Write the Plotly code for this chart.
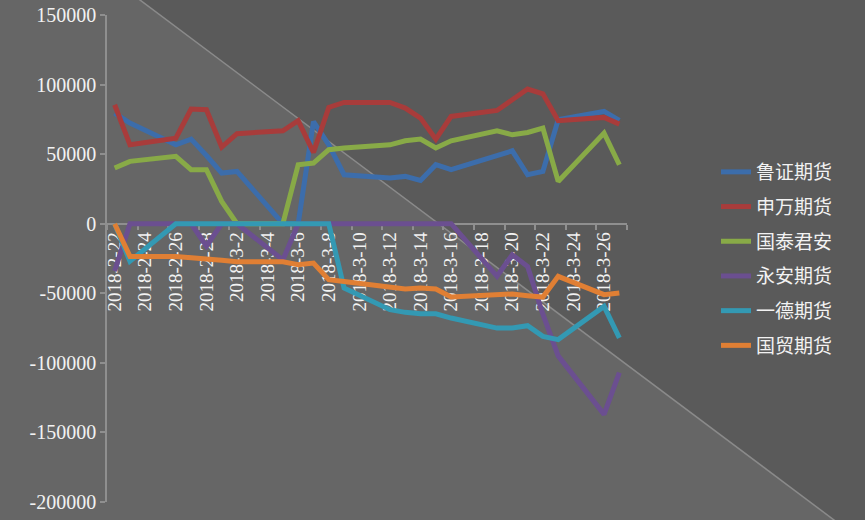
import plotly.graph_objects as go
import pandas as pd

dates = ["2018-02-22", "2018-02-23", "2018-02-26", "2018-02-27", "2018-02-28", "2018-03-01",
         "2018-03-02", "2018-03-05", "2018-03-06", "2018-03-07", "2018-03-08", "2018-03-09",
         "2018-03-12", "2018-03-13", "2018-03-14", "2018-03-15", "2018-03-16", "2018-03-19",
         "2018-03-20", "2018-03-21", "2018-03-22", "2018-03-23", "2018-03-26", "2018-03-27"]

series_names = ["鲁证期货", "申万期货", "国泰君安", "永安期货", "一德期货", "国贸期货"]

luzheng = [79500, 72300, 56700, 60800, 49000, 36400, 37600, 0, 0, 73300, 56700, 35200,
           32800, 34000, 31100, 42400, 38800, 49600, 52400, 35200, 37600, 74700, 80700, 74200]
shenwan = [85500, 56700, 61500, 82400, 81900, 55100, 64700, 66800, 74000, 51200, 83600, 87200,
           87200, 83100, 75900, 60800, 77100, 81400, 89100, 96800, 93400, 74000, 76400, 71600]
guotai = [40000, 44800, 48400, 38800, 38800, 16000, 0, 0, 42400, 43600, 53200, 54400,
          56700, 59600, 60800, 54400, 59600, 66800, 63900, 65600, 68700, 30400, 65100, 42400]
yongan = [-34000, 0, 0, 0, -16000, 0, 0, -26000, 0, 0, 0, 0,
          0, 0, 0, 0, 0, -37800, -22300, -30700, -65000, -95000, -137000, -107000]
yide = [0, -27000, 0, 0, 0, 0, 0, 0, 0, 0, 0, -46200,
        -61800, -63700, -64700, -64700, -67800, -75000, -75000, -73300, -81000, -83300, -59400, -82100]
guomao = [0, -23500, -23500, -24000, -25400, -26300, -27300, -27300, -29500, -28300, -40200, -41500,
          -46200, -46900, -46200, -46900, -52700, -51700, -50500, -51700, -52700, -37800, -51000, -49800]

x_tick_dates = ["2018-02-22", "2018-02-24", "2018-02-26", "2018-02-28", "2018-03-02", "2018-03-04",
                "2018-03-06", "2018-03-08", "2018-03-10", "2018-03-12", "2018-03-14", "2018-03-16",
                "2018-03-18", "2018-03-20", "2018-03-22", "2018-03-24", "2018-03-26"]
x_tick_labels = ["2018-2-22", "2018-2-24", "2018-2-26", "2018-2-28", "2018-3-2", "2018-3-4",
                 "2018-3-6", "2018-3-8", "2018-3-10", "2018-3-12", "2018-3-14", "2018-3-16",
                 "2018-3-18", "2018-3-20", "2018-3-22", "2018-3-24", "2018-3-26"]
y_tick_values = [150000, 100000, 50000, 0, -50000, -100000, -150000, -200000]
y_tick_labels = ["150000", "100000", "50000", "0", "-50000", "-100000", "-150000", "-200000"]

colors = ["#3c6dab", "#a83c3b", "#88aa47", "#6b4f90", "#3399b3", "#e07f34"]
all_series = [luzheng, shenwan, guotai, yongan, yide, guomao]

TXT = "#f2f2f2"
SERIF = "Liberation Serif, Times New Roman, serif"
fig = go.Figure()
for i, (name, vals) in enumerate(zip(series_names, all_series)):
    fig.add_trace(go.Scatter(
        x=dates, y=vals, name=name, mode="lines",
        xperiod=86400000, xperiodalignment="middle",
        line=dict(color=colors[i], width=5),
        legendgroup=f"g{i}",
    ))

# plot area pixels: x 107..627, y 15..502
def px(x):
    return (x - 107) / 520.0

def py(y):
    return (502 - y) / 487.0

fig.add_shape(type="path", xref="paper", yref="paper", layer="below",
              path=f"M {px(-40)},{py(-40)} L {px(113.3)},{py(-20)} L {px(860.7)},{py(540)} L {px(-40)},{py(560)} Z",
              fillcolor="#666666", line=dict(width=0))
fig.add_shape(type="line", xref="paper", yref="paper", layer="below",
              x0=px(113.3), y0=py(-20), x1=px(860.7), y1=py(540),
              line=dict(color="#8a8a8a", width=1.5))

tickvals_x = [pd.Timestamp(d) + pd.Timedelta(hours=12) for d in x_tick_dates]

fig.update_layout(
    width=865, height=520,
    margin=dict(l=107, r=238, t=15, b=18, autoexpand=False),
    paper_bgcolor="#5a5a5a",
    plot_bgcolor="rgba(0,0,0,0)",
    showlegend=True,
    legend=dict(x=px(716), y=py(153), xanchor="left", yanchor="top",
                font=dict(family="Liberation Serif, Noto Sans CJK SC", size=19, color=TXT),
                bgcolor="rgba(0,0,0,0)", tracegroupgap=7, itemwidth=30),
    xaxis=dict(
        type="date", range=["2018-02-22", "2018-03-28"],
        anchor="free", position=py(224),
        tickmode="array", tickvals=tickvals_x, ticktext=x_tick_labels,
        tickangle=-90, ticks="", showgrid=False, zeroline=False,
        showline=True, linecolor="#8f8f8f", linewidth=1.5,
        tickfont=dict(family=SERIF, size=19, color=TXT),
        layer="below traces",
        minor=dict(tickmode="linear", tick0="2018-02-22", dtick=2 * 86400000,
                   ticks="outside", ticklen=5, tickcolor="#8f8f8f", tickwidth=1.5),
    ),
    yaxis=dict(
        range=[-200000, 150000], tickmode="array", tickvals=y_tick_values, ticktext=y_tick_labels,
        ticks="outside", ticklen=5, tickcolor="#8f8f8f", tickwidth=1.5,
        showline=True, linecolor="#8f8f8f", linewidth=1.5,
        showgrid=False, zeroline=False,
        tickfont=dict(family=SERIF, size=20, color=TXT),
    ),
)

fig.write_html("out.html", config={"displayModeBar": False},
               post_script="document.body.style.margin='0';document.body.style.background='#5a5a5a';")
